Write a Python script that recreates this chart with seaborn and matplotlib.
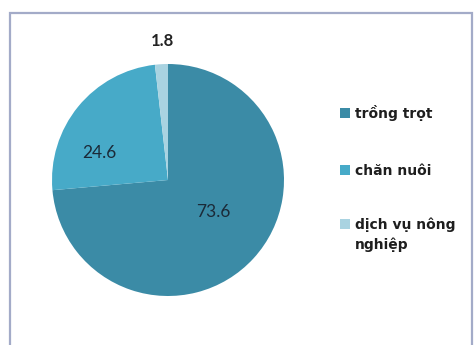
import matplotlib
matplotlib.use("Agg")
import matplotlib.pyplot as plt
import matplotlib.patches as mpatches
import seaborn as sns

# Cơ cấu giá trị sản xuất nông nghiệp (%)
categories = ["trồng trọt", "chăn nuôi", "dịch vụ nông\nnghiệp"]
values = [73.6, 24.6, 1.8]
value_labels = ["73.6", "24.6", "1.8"]
colors = ["#3b8ba6", "#47aac8", "#a9d3e1"]

sns.set_theme(style="white")
plt.rcParams["font.family"] = ["Lato", "DejaVu Sans"]

W, H = 475, 345
fig = plt.figure(figsize=(W / 100, H / 100), dpi=100)
fig.patch.set_facecolor("white")


def fx(px):
    return px / W


def fy(py):
    return 1 - py / H


# outer chart frame
frame = mpatches.Rectangle((fx(10), -0.05), fx(462), 1.05 - 13 / H,
                           transform=fig.transFigure, fill=False,
                           edgecolor="#a3abc8", linewidth=1.6)
fig.add_artist(frame)

# pie area
cx, cy, r = 168, 180, 116
ax = fig.add_axes([fx(cx - r), (H - cy - r) / H, fx(2 * r), 2 * r / H])
wedges, _ = ax.pie(values, colors=colors, startangle=90, counterclock=False,
                   radius=1.0, wedgeprops=dict(linewidth=0))
ax.set_xlim(-1, 1)
ax.set_ylim(-1, 1)
ax.set_aspect("equal")
ax.axis("off")

# value labels
label_pos = [(0.39, -0.28), (-0.59, 0.23), (-0.05, 1.2)]
for i, (txt, (x, y)) in enumerate(zip(value_labels, label_pos)):
    ax.text(x, y, txt, ha="center", va="center",
            fontsize=12.5 if i < 2 else 12,
            fontweight="normal" if i < 2 else "bold",
            color="#1b2a38" if i < 2 else "#222222", clip_on=False)

# legend: square key aligned with the first line of each entry
key_x, key_size, line_step = 340, 10, 20
entry_y = [113, 170, 224]
for cat, c, yc in zip(categories, colors, entry_y):
    fig.add_artist(mpatches.Rectangle((fx(key_x), fy(yc + key_size / 2)),
                                      fx(key_size), key_size / H,
                                      transform=fig.transFigure,
                                      facecolor=c, edgecolor="none"))
    for k, line in enumerate(cat.split("\n")):
        fig.text(fx(355), fy(yc + 5 + k * line_step), line,
                 ha="left", va="baseline", fontsize=10, fontweight="bold",
                 color="#1e1e1e", family=["DejaVu Sans"])

fig.savefig("out.png", dpi=100, facecolor="white")
